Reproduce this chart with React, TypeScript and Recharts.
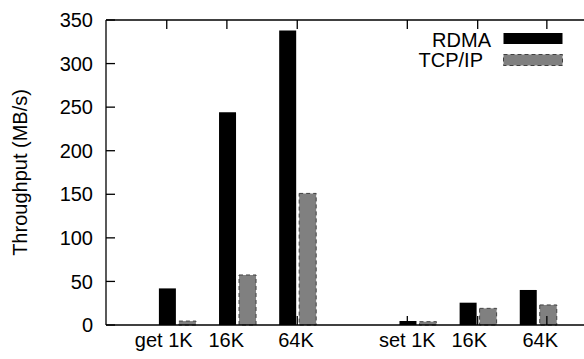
import React from 'react';
import { BarChart, Bar, XAxis, YAxis, Legend, Label } from 'recharts';

// slot index of each category (slot 3 is the gap between "get" and "set")
const slots = [0, 1, 2, 4, 5, 6];
const categories = ['get 1K', '16K', '64K', 'set 1K', '16K', '64K'];
const rdmaValues = [42, 244, 338, 4.6, 25.6, 40.2];
const tcpValues = [4.5, 57.4, 151, 3.8, 19.1, 23];
// x-axis tick marks and label positions, in slot units
const tickPositions = [-0.17, 0.83, 2.0, 3.83, 5.0, 6.15];
const labelPositions = [-0.22, 0.82, 1.98, 3.83, 4.86, 6.04];
const yTicks = [0, 50, 100, 150, 200, 250, 300, 350];

const data = slots.map((x, i) => ({ x, rdma: rdmaValues[i], tcp: tcpValues[i] }));

const X_DOMAIN: [number, number] = [-1.18, 7.2];
const FONT = '"Liberation Sans", Arial, Helvetica, sans-serif';
const TICK_LEN = 9;
const LINE_W = 1.3;

const legendStyles = [
  { textX: 491, baseline: 46.7, rectY: 33, fill: '#000', stroke: 'none', dash: undefined as string | undefined },
  { textX: 483, baseline: 66.5, rectY: 54.5, fill: '#808080', stroke: '#404040', dash: '4 3' },
];

function LegendContent(props: any) {
  const payload = props.payload || [];
  return (
    <svg width={584} height={80} style={{ display: 'block' }}>
      {payload.map((entry: any, i: number) => {
        const s = legendStyles[i];
        return (
          <g key={i}>
            <text x={s.textX} y={s.baseline} textAnchor="end" fontSize={20} fill="#000" fontFamily={FONT}>
              {entry.value}
            </text>
            <rect x={503.5} y={s.rectY} width={59} height={11} fill={s.fill} stroke={s.stroke} strokeDasharray={s.dash} />
          </g>
        );
      })}
    </svg>
  );
}

function YTitle(props: any) {
  const vb = props.viewBox || { x: 0, y: 0, width: 0, height: 0 };
  const cx = Number(vb.x) + 27;
  const cy = Number(vb.y) + Number(vb.height) / 2;
  return (
    <text x={cx} y={cy} transform={`rotate(-90, ${cx}, ${cy})`} textAnchor="middle" fontSize={20} fill="#000" fontFamily={FONT}>
      Throughput (MB/s)
    </text>
  );
}

// y tick: label plus an inward tick mark on the axis
function YTick(props: any) {
  const x = Number(props.x);
  const y = Number(props.y);
  return (
    <g>
      <rect x={x + 13} y={y - LINE_W / 2} width={TICK_LEN} height={LINE_W} fill="#000" />
      <text x={x} y={y} dy="0.355em" textAnchor="end" fontSize={20} fill="#000" fontFamily={FONT}>
        {props.payload.value}
      </text>
    </g>
  );
}

function BottomTickMark(props: any) {
  const x = Number(props.x);
  const y = Number(props.y);
  return <path d={`M${x},${y}V${y - TICK_LEN}`} stroke="#000" strokeWidth={LINE_W} fill="none" />;
}

function TopTickMark(props: any) {
  const x = Number(props.x);
  const y = Number(props.y);
  return <path d={`M${x},${y}V${y + TICK_LEN}`} stroke="#000" strokeWidth={LINE_W} fill="none" />;
}

function CategoryLabel(props: any) {
  const { x, y, index } = props;
  return (
    <text x={x} y={y} dy="0.71em" textAnchor="middle" fontSize={20} fill="#000" fontFamily={FONT}>
      {categories[index]}
    </text>
  );
}

export default function App() {
  return (
    <div
      style={{
        position: 'fixed',
        left: 0,
        top: 0,
        width: 584,
        height: 359,
        overflow: 'hidden',
        background: '#fff',
        fontFamily: FONT,
      }}
    >
      <BarChart
        width={620}
        height={359}
        data={data}
        margin={{ top: 19, right: 10, bottom: 0, left: 0 }}
        barSize={17}
        barGap={3}
      >
        <XAxis
          xAxisId="bot"
          type="number"
          dataKey="x"
          domain={X_DOMAIN}
          allowDataOverflow
          ticks={tickPositions}
          interval={0}
          tick={<BottomTickMark />}
          tickLine={false}
          tickSize={0}
          tickMargin={0}
          height={1}
          axisLine={{ stroke: '#000', strokeWidth: LINE_W }}
        />
        <XAxis
          xAxisId="lbl"
          type="number"
          dataKey="x"
          domain={X_DOMAIN}
          allowDataOverflow
          ticks={labelPositions}
          interval={0}
          tick={<CategoryLabel />}
          tickLine={false}
          axisLine={false}
          tickSize={0}
          tickMargin={7}
          height={33}
        />
        <XAxis
          xAxisId="top"
          orientation="top"
          type="number"
          dataKey="x"
          domain={X_DOMAIN}
          allowDataOverflow
          ticks={tickPositions}
          interval={0}
          tick={<TopTickMark />}
          tickLine={false}
          tickSize={0}
          tickMargin={0}
          height={1}
          axisLine={{ stroke: '#000', strokeWidth: LINE_W }}
        />
        <YAxis
          domain={[0, 350]}
          ticks={yTicks}
          interval={0}
          width={106}
          tickSize={0}
          tickMargin={13}
          tick={<YTick />}
          tickLine={false}
          axisLine={{ stroke: '#000', strokeWidth: LINE_W }}
        >
          <Label content={<YTitle />} />
        </YAxis>
        <Legend
          layout="horizontal"
          verticalAlign="middle"
          align="center"
          content={<LegendContent />}
          wrapperStyle={{ position: 'absolute', left: 0, top: 0, width: 584, height: 80 }}
        />
        <Bar xAxisId="bot" dataKey="rdma" name="RDMA" fill="#000" isAnimationActive={false} />
        <Bar
          xAxisId="bot"
          dataKey="tcp"
          name="TCP/IP"
          fill="#808080"
          stroke="#404040"
          strokeDasharray="4 3"
          isAnimationActive={false}
        />
      </BarChart>
    </div>
  );
}
